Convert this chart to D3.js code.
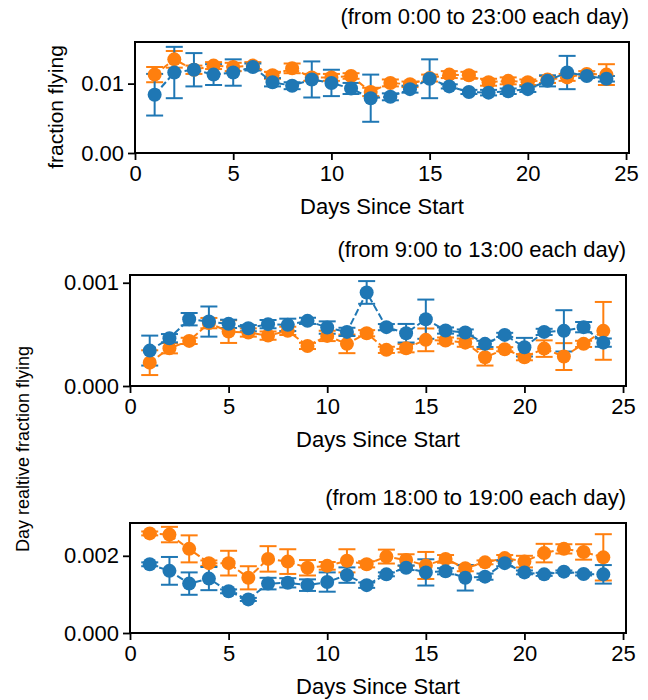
<!DOCTYPE html>
<html>
<head>
<meta charset="utf-8">
<script src="https://cdn.jsdelivr.net/npm/d3@7"></script>
<style>
  body { margin: 0; background: #fff; }
  text { font-family: "Liberation Sans", Arial, sans-serif; fill: #000; }
</style>
</head>
<body>
<script>
const days = [1, 2, 3, 4, 5, 6, 7, 8, 9, 10, 11, 12, 13, 14, 15, 16, 17, 18, 19, 20, 21, 22, 23, 24]
const xTicks = [0, 5, 10, 15, 20, 25]
const titles = ["(from 0:00 to 23:00 each day)", "(from 9:00 to 13:00 each day)", "(from 18:00 to 19:00 each day)"]

// panel 1: whole day
const p1BlueMean = [0.0084, 0.0116, 0.0120, 0.0113, 0.0116, 0.0124, 0.0102, 0.0097, 0.0106, 0.0101, 0.0093, 0.0079, 0.0081, 0.0092, 0.0107, 0.0096, 0.0088, 0.0087, 0.0089, 0.0092, 0.0104, 0.0116, 0.0111, 0.0107]
const p1BlueErr = [0.0030, 0.0037, 0.0024, 0.0015, 0.0019, 0.0005, 0.0006, 0.0005, 0.0026, 0.0019, 0.0008, 0.0034, 0.0005, 0.0005, 0.0028, 0.0003, 0.0003, 0.0004, 0.0004, 0.0004, 0.0008, 0.0024, 0.0003, 0.0004]
const p1OrangeMean = [0.0113, 0.0135, 0.0120, 0.0126, 0.0124, 0.0126, 0.0112, 0.0122, 0.0109, 0.0109, 0.0111, 0.0088, 0.0101, 0.0099, 0.0108, 0.0113, 0.0112, 0.0102, 0.0104, 0.0102, 0.0106, 0.0109, 0.0114, 0.0113]
const p1OrangeErr = [0.0011, 0.0012, 0.0006, 0.0005, 0.0006, 0.0005, 0.0005, 0.0007, 0.0005, 0.0005, 0.0004, 0.0006, 0.0005, 0.0004, 0.0005, 0.0005, 0.0005, 0.0005, 0.0005, 0.0004, 0.0005, 0.0005, 0.0004, 0.0015]
const p1YTicks = [0, 0.01]
const p1YLabels = ["0.00", "0.01"]

// panel 2: 9-13h
const p2BlueMean = [0.000343, 0.000463, 0.000647, 0.000624, 0.000602, 0.00056, 0.000599, 0.000592, 0.000631, 0.000566, 0.000524, 0.000906, 0.00057, 0.000511, 0.000647, 0.000537, 0.000518, 0.000408, 0.000495, 0.000376, 0.000524, 0.000534, 0.00057, 0.00042]
const p2BlueErr = [0.000145, 0.00004, 0.00006, 0.000146, 0.00004, 0.00003, 0.00004, 0.00006, 0.00003, 0.00006, 0.00004, 0.00011, 0.00003, 0.00009, 0.00019, 0.00003, 0.00003, 0.00003, 0.00002, 0.00009, 0.00003, 0.0002, 0.00005, 0.00004]
const p2OrangeMean = [0.000226, 0.000366, 0.000437, 0.000609, 0.000527, 0.000518, 0.000488, 0.000534, 0.000388, 0.000485, 0.000408, 0.000511, 0.00035, 0.000366, 0.000447, 0.00044, 0.00042, 0.000278, 0.000356, 0.000279, 0.000362, 0.000285, 0.000408, 0.000534]
const p2OrangeErr = [0.00012, 0.00005, 0.00003, 0.00005, 0.00011, 0.00004, 0.00004, 0.00004, 0.00003, 0.00005, 0.00009, 0.00003, 0.00003, 0.00004, 0.00011, 0.00003, 0.00004, 0.00008, 0.00002, 0.00003, 0.00008, 0.00013, 0.00003, 0.00028]
const p2YTicks = [0, 0.001]
const p2YLabels = ["0.000", "0.001"]

// panel 3: 18-19h
const p3BlueMean = [0.00178, 0.00161, 0.00128, 0.00141, 0.00108, 0.00087, 0.00128, 0.0013, 0.00124, 0.00132, 0.0015, 0.00124, 0.00152, 0.00169, 0.00157, 0.0016, 0.00143, 0.00146, 0.00181, 0.00157, 0.00152, 0.00159, 0.00153, 0.00152]
const p3BlueErr = [0.00005, 0.00036, 0.00029, 0.0003, 0.00005, 0.00004, 0.00015, 0.00012, 0.00015, 0.00025, 0.0002, 0.00007, 0.00005, 0.00006, 0.00034, 0.00008, 0.00033, 0.00008, 0.00008, 0.00005, 0.00004, 0.00003, 0.00004, 0.00024]
const p3OrangeMean = [0.00258, 0.00255, 0.00218, 0.00181, 0.00181, 0.00143, 0.00192, 0.00185, 0.00169, 0.00174, 0.00187, 0.00178, 0.00198, 0.00189, 0.00175, 0.00192, 0.00168, 0.00183, 0.00194, 0.00185, 0.00207, 0.00218, 0.0021, 0.00196]
const p3OrangeErr = [0.00005, 0.0002, 0.00035, 0.00007, 0.00032, 0.0003, 0.00033, 0.00032, 0.0002, 0.0001, 0.0003, 0.00008, 0.00018, 0.00015, 0.00035, 0.0001, 0.00008, 0.00005, 0.00008, 0.00015, 0.00024, 0.00012, 0.0002, 0.0006]
const p3YTicks = [0, 0.002]
const p3YLabels = ["0.000", "0.002"]

const blue = "#1f77b4"
const orange = "#ff7f0e"

const w = 648
const h = 700

const panels = [
  { left: 135, right: 629, top: 42, bottom: 153, ymax: 0.016, yTicks: p1YTicks, yLabels: p1YLabels, title: titles[0],
    series: [ { mean: p1OrangeMean, err: p1OrangeErr, color: orange }, { mean: p1BlueMean, err: p1BlueErr, color: blue } ] },
  { left: 130, right: 626, top: 275, bottom: 386, ymax: 0.001075, yTicks: p2YTicks, yLabels: p2YLabels, title: titles[1],
    series: [ { mean: p2OrangeMean, err: p2OrangeErr, color: orange }, { mean: p2BlueMean, err: p2BlueErr, color: blue } ] },
  { left: 130, right: 626, top: 523, bottom: 633, ymax: 0.00285, yTicks: p3YTicks, yLabels: p3YLabels, title: titles[2],
    series: [ { mean: p3OrangeMean, err: p3OrangeErr, color: orange }, { mean: p3BlueMean, err: p3BlueErr, color: blue } ] }
]

const svg = d3.select("body")
  .append("svg")
  .attr("width", w)
  .attr("height", h)

svg.append("rect").attr("width", w).attr("height", h).attr("fill", "#fff")

panels.forEach(p => {
  const x = d3.scaleLinear().domain([0, 25.15]).range([p.left, p.right])
  const y = d3.scaleLinear().domain([0, p.ymax]).range([p.bottom, p.top])
  const g = svg.append("g")

  // axes
  const yAxis = d3.axisLeft(y).tickValues(p.yTicks)
    .tickFormat((d, i) => p.yLabels[i]).tickSize(7).tickPadding(4)
  const xAxis = d3.axisBottom(x).tickValues(xTicks)
    .tickFormat(d3.format("d")).tickSize(7).tickPadding(5)

  const ya = g.append("g").attr("transform", `translate(${p.left},0)`).call(yAxis)
  const xa = g.append("g").attr("transform", `translate(0,${p.bottom})`).call(xAxis)
  ;[ya, xa].forEach(a => {
    a.select(".domain").remove()
    a.selectAll(".tick line").attr("stroke", "#000").attr("stroke-width", 1.8)
    a.selectAll(".tick text").attr("font-size", 22).attr("fill", "#000")
      .style("font-family", '"Liberation Sans", Arial, sans-serif')
  })

  // error bars first (drawn under the lines)
  p.series.forEach(s => {
    const eb = g.append("g").attr("stroke", s.color).attr("stroke-width", 2).attr("fill", "none")
    days.forEach((d, i) => {
      const cx = x(d), lo = y(s.mean[i] - s.err[i]), hi = y(s.mean[i] + s.err[i])
      eb.append("line").attr("x1", cx).attr("x2", cx).attr("y1", lo).attr("y2", hi)
      eb.append("line").attr("x1", cx - 8.5).attr("x2", cx + 8.5).attr("y1", lo).attr("y2", lo)
      eb.append("line").attr("x1", cx - 8.5).attr("x2", cx + 8.5).attr("y1", hi).attr("y2", hi)
    })
  })

  // dashed lines with markers, blue on top
  p.series.forEach(s => {
    const line = d3.line().x((d, i) => x(d)).y((d, i) => y(s.mean[i]))
    g.append("path").datum(days)
      .attr("d", line)
      .attr("fill", "none")
      .attr("stroke", s.color)
      .attr("stroke-width", 2)
      .attr("stroke-dasharray", "7,3")
    g.selectAll(null).data(days).enter()
      .append("circle")
      .attr("cx", d => x(d))
      .attr("cy", (d, i) => y(s.mean[i]))
      .attr("r", 7)
      .attr("fill", s.color)
  })

  // frame
  g.append("rect")
    .attr("x", p.left).attr("y", p.top)
    .attr("width", p.right - p.left).attr("height", p.bottom - p.top)
    .attr("fill", "none").attr("stroke", "#000").attr("stroke-width", 2)

  // title and x label
  g.append("text").attr("x", p.right).attr("y", p.top - 18)
    .attr("text-anchor", "end").attr("font-size", 22).text(p.title)
  g.append("text").attr("x", (p.left + p.right) / 2).attr("y", p.bottom + 61)
    .attr("text-anchor", "middle").attr("font-size", 22).text("Days Since Start")
})

// y labels
svg.append("text")
  .attr("transform", "translate(63,107) rotate(-90)")
  .attr("text-anchor", "middle").attr("font-size", 21)
  .text("fraction flying")

svg.append("text")
  .attr("transform", "translate(29,449) rotate(-90)")
  .attr("text-anchor", "middle").attr("font-size", 18)
  .text("Day realtive fraction flying")
</script>
</body>
</html>
